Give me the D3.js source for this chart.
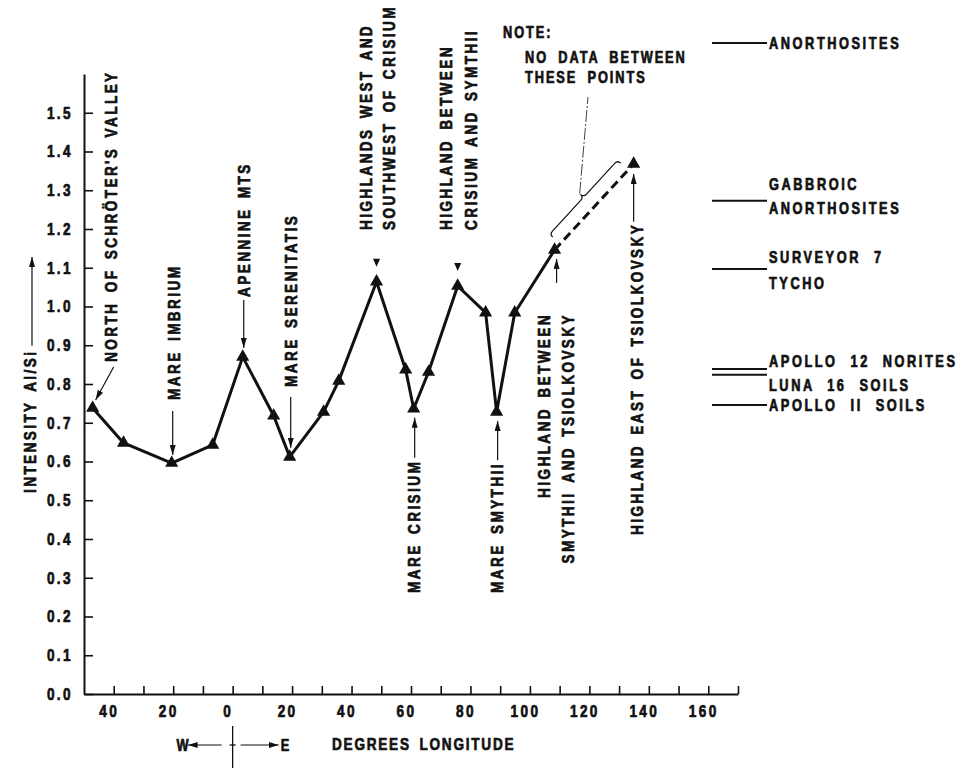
<!DOCTYPE html>
<html>
<head>
<meta charset="utf-8">
<script src="https://cdn.jsdelivr.net/npm/d3@7/dist/d3.min.js"></script>
<style>
  body { margin: 0; background: #fff; }
  svg text {
    font-family: "Liberation Sans", Arial, sans-serif;
    font-weight: bold;
    font-size: 17px;
    letter-spacing: 3px;
    word-spacing: 4px;
    fill: #111;
    stroke: #111;
    stroke-width: 0.7px;
    stroke-linejoin: round;
  }
</style>
</head>
<body>
<div id="chart"></div>
<script>
// Al/Si intensity along the ground track (negative longitude = west)
const longitude = [-47.1, -36.7, -20.5, -6.7, 3.4, 13.8, 19.2, 30.6, 35.7, 48.4, 58.2,
                   60.9, 65.9, 75.7, 85.1, 88.8, 94.9, 108.3, 134.9];
const intensity = [0.738, 0.648, 0.596, 0.643, 0.870, 0.718, 0.612, 0.728, 0.808, 1.064, 0.837,
                   0.736, 0.831, 1.053, 0.984, 0.728, 0.984, 1.146, 1.368];

// named sites: index into the series above
const siteIndex = [0, 2, 4, 6, 9, 11, 13, 15, 17, 18];
const siteNames = [
  ["NORTH OF SCHRÖTER'S VALLEY"],
  ["MARE IMBRIUM"],
  ["APENNINE MTS"],
  ["MARE SERENITATIS"],
  ["HIGHLANDS WEST AND", "SOUTHWEST OF CRISIUM"],
  ["MARE CRISIUM"],
  ["HIGHLAND BETWEEN", "CRISIUM AND SYMTHII"],
  ["MARE SMYTHII"],
  ["HIGHLAND BETWEEN", "SMYTHII AND TSIOLKOVSKY"],
  ["HIGHLAND EAST OF TSIOLKOVSKY"]
];

// reference materials on the right
const refNames = [["ANORTHOSITES"], ["GABBROIC", "ANORTHOSITES"], ["SURVEYOR 7", "TYCHO"],
                  ["APOLLO 12 NORITES"], ["LUNA 16 SOILS"], ["APOLLO II SOILS"]];
const refValues = [1.68, 1.273, 1.097, 0.839, 0.824, 0.746];

const yTickValues = [0.0, 0.1, 0.2, 0.3, 0.4, 0.5, 0.6, 0.7, 0.8, 0.9, 1.0, 1.1, 1.2, 1.3, 1.4, 1.5];
const xTickValues = [-40, -30, -20, -10, 0, 10, 20, 30, 40, 50, 60, 70, 80, 90, 100, 110, 120, 130, 140, 150, 160, 170];
const xLabelValues = [-40, -20, 0, 20, 40, 60, 80, 100, 120, 140, 160];

const noteLines = ["NOTE:", "NO DATA BETWEEN", "THESE POINTS"];

const W = 964, H = 773;
const SX = 0.8; // narrow lettering
const svg = d3.select("#chart").append("svg").attr("width", W).attr("height", H);

const defs = svg.append("defs");
defs.append("marker")
  .attr("id", "arrow")
  .attr("viewBox", "0 0 10 6")
  .attr("refX", 10).attr("refY", 3)
  .attr("markerWidth", 10).attr("markerHeight", 6)
  .attr("markerUnits", "userSpaceOnUse")
  .attr("orient", "auto")
  .append("path").attr("d", "M0,0L10,3L0,6Z").attr("fill", "#111");

const x = d3.scaleLinear().domain([-50, 170]).range([84, 738]);
const y = d3.scaleLinear().domain([0, 1.6]).range([694, 74]);

// axes
const yAxis = svg.append("g")
  .attr("transform", `translate(${x(-50)},0)`)
  .call(d3.axisLeft(y).tickValues(yTickValues).tickFormat(d3.format(".1f"))
    .tickSizeInner(-9).tickSizeOuter(0));
yAxis.selectAll(".tick text")
  .attr("x", null)
  .attr("transform", `translate(-11,0) scale(${SX},1)`);

const xAxis = svg.append("g")
  .attr("transform", `translate(0,${y(0)})`)
  .call(d3.axisBottom(x).tickValues(xTickValues)
    .tickFormat(d => xLabelValues.includes(d) ? Math.abs(d) : "")
    .tickSizeInner(-8).tickSizeOuter(0));
xAxis.selectAll(".tick text")
  .attr("y", null)
  .attr("transform", `translate(-5,11) scale(${SX},1)`);

svg.selectAll(".domain").attr("stroke", "#111").attr("stroke-width", 2);
svg.selectAll(".tick line").attr("stroke", "#111").attr("stroke-width", 1.6);
svg.selectAll(".tick text").attr("fill", "#111").style("font-size", "17px")
  .style("font-family", null);

// series line
const line = d3.line().x((d, i) => x(longitude[i])).y(d => y(d));
svg.append("path")
  .datum(intensity.slice(0, 18))
  .attr("fill", "none").attr("stroke", "#111").attr("stroke-width", 3)
  .attr("stroke-linejoin", "round")
  .attr("d", line);

// no data between the last two points
svg.append("path")
  .datum([[longitude[17], intensity[17]], [longitude[18], intensity[18]]])
  .attr("fill", "none").attr("stroke", "#111").attr("stroke-width", 3)
  .attr("stroke-dasharray", "9,5")
  .attr("d", d3.line().x(d => x(d[0])).y(d => y(d[1])));

svg.selectAll(".pt")
  .data(intensity)
  .enter().append("path")
  .attr("class", "pt")
  .attr("transform", (d, i) => `translate(${x(longitude[i])},${y(d)})`)
  .attr("d", d3.symbol(d3.symbolTriangle, 75))
  .attr("fill", "#111");

// text helper: narrow lettering, optionally reading bottom to top
function label(px, py, str, opt = {}) {
  const t = svg.append("text")
    .attr("transform", `translate(${px},${py})${opt.rotate ? " rotate(-90)" : ""} scale(${SX},1)`)
    .attr("text-anchor", opt.anchor || "start")
    .attr("dy", "0.36em")
    .text(str);
  if (opt.size) t.style("font-size", opt.size + "px");
  if (opt.ls != null) t.style("letter-spacing", opt.ls + "px");
  if (opt.ws != null) t.style("word-spacing", opt.ws + "px");
  return t;
}
const textLen = t => t.node().getComputedTextLength() * SX;
const vText = (px, py, str, anchor) => label(px, py, str, { rotate: true, anchor });

function arrow(x1, y1, x2, y2) {
  svg.append("line")
    .attr("x1", x1).attr("y1", y1).attr("x2", x2).attr("y2", y2)
    .attr("stroke", "#111").attr("stroke-width", 1.2)
    .attr("marker-end", "url(#arrow)");
}
function downMark(px, py) {
  svg.append("path")
    .attr("d", `M${px - 3.5},${py - 8}L${px + 3.5},${py - 8}L${px},${py}Z`)
    .attr("fill", "#111");
}

const site = siteIndex.map(i => [x(longitude[i]), y(intensity[i])]);

// site labels
let p = site[0];
vText(p[0] + 18, 362, siteNames[0][0]);
arrow(p[0] + 21, p[1] - 41, p[0] + 3, p[1] - 8);

p = site[1];
vText(p[0] + 2, 400, siteNames[1][0]);
arrow(p[0] + 1, 411, p[0] + 1, p[1] - 8);

p = site[2];
vText(p[0] + 1, 297, siteNames[2][0]);
arrow(p[0] + 1, 300, p[0] + 1, p[1] - 9);

p = site[3];
vText(p[0] + 1, 387, siteNames[3][0]);
arrow(p[0] + 1, 397, p[0] + 1, p[1] - 9);

p = site[4];
vText(p[0] - 11, 230, siteNames[4][0]);
vText(p[0] + 12, 230, siteNames[4][1]);
downMark(p[0], p[1] - 15);

p = site[6];
vText(p[0] - 12, 230, siteNames[6][0]);
vText(p[0] + 13, 230, siteNames[6][1]);
downMark(p[0], p[1] - 15);

[5, 7].forEach(k => {
  const q = site[k];
  const t = vText(q[0], 593, siteNames[k][0]);
  arrow(q[0] + 1, 593 - textLen(t) - 2, q[0] + 1, q[1] + 9);
});

p = site[8];
vText(p[0] - 11, 313, siteNames[8][0], "end");
vText(p[0] + 13, 313, siteNames[8][1], "end");
arrow(p[0] + 2, p[1] + 33, p[0] + 2, p[1] + 9);

p = site[9];
{
  const t = vText(p[0] + 3, 535, siteNames[9][0]);
  arrow(p[0], 535 - textLen(t) - 1, p[0], p[1] + 10);
}

// note with brace over the dashed segment
const a = [x(longitude[17]), y(intensity[17])];
const b = [x(longitude[18]), y(intensity[18])];
const segLen = Math.hypot(b[0] - a[0], b[1] - a[1]);
const u = [(b[0] - a[0]) / segLen, (b[1] - a[1]) / segLen];
const n = [u[1], -u[0]];
const t0 = 0.07, t1 = 0.93, off = 10, q = 4.3;
const braceLen = (t1 - t0) * segLen;
const start = [a[0] + u[0] * t0 * segLen + n[0] * off, a[1] + u[1] * t0 * segLen + n[1] * off];
const angle = Math.atan2(u[1], u[0]) * 180 / Math.PI;
const m = braceLen / 2;
svg.append("path")
  .attr("transform", `translate(${start[0]},${start[1]}) rotate(${angle})`)
  .attr("d", `M0,0Q0,${-q} ${q},${-q}L${m - q},${-q}Q${m},${-q} ${m},${-2 * q}` +
             `Q${m},${-q} ${m + q},${-q}L${braceLen - q},${-q}Q${braceLen},${-q} ${braceLen},0`)
  .attr("fill", "none").attr("stroke", "#111").attr("stroke-width", 1.2);
const tip = [start[0] + u[0] * m + n[0] * (2 * q + 1), start[1] + u[1] * m + n[1] * (2 * q + 1)];
svg.append("line")
  .attr("x1", tip[0]).attr("y1", tip[1]).attr("x2", 588).attr("y2", 97)
  .attr("stroke", "#111").attr("stroke-width", 0.8)
  .attr("stroke-dasharray", "12,2,2,2");

const noteOpt = { size: 16, ls: 2.4, ws: 6 };
label(503, 32, noteLines[0], noteOpt);
label(525, 57, noteLines[1], noteOpt);
label(525, 77, noteLines[2], noteOpt);

// reference materials
const refDy = [[0], [-16, 8], [-12, 14], [-8], [11], [0]];
refValues.forEach((v, i) => {
  svg.append("line")
    .attr("x1", 712).attr("x2", 767).attr("y1", y(v)).attr("y2", y(v))
    .attr("stroke", "#111").attr("stroke-width", 2);
  refNames[i].forEach((s, j) => {
    label(769, y(v) + refDy[i][j], s, { size: 16, ls: 3.2, ws: 8.5 });
  });
});

// axis titles
{
  const t = vText(30, 493, "INTENSITY  Al/Si");
  arrow(32, 493 - textLen(t) - 4, 32, 257);
}
label(332, 744, "DEGREES LONGITUDE", { ls: 2.2 });

// W / E indicator under zero
const x0 = x(0);
label(x0 - 44, 745, "W", { size: 16, ls: 0, anchor: "end" });
label(x0 + 48, 745, "E", { size: 16, ls: 0 });
arrow(x0 - 11, 745, x0 - 45, 745);
arrow(x0 + 8, 745, x0 + 46, 745);
svg.append("line").attr("x1", x0).attr("x2", x0).attr("y1", 726).attr("y2", 768)
  .attr("stroke", "#111").attr("stroke-width", 1.3);
svg.append("line").attr("x1", x0 - 3).attr("x2", x0 + 3).attr("y1", 745).attr("y2", 745)
  .attr("stroke", "#111").attr("stroke-width", 1.3);
</script>
</body>
</html>
